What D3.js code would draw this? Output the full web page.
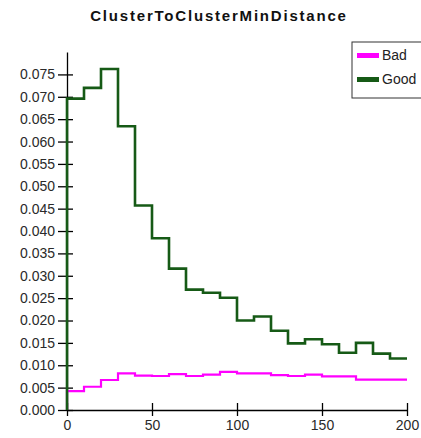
<!DOCTYPE html>
<html>
<head>
<meta charset="utf-8">
<script src="https://cdn.jsdelivr.net/npm/d3@7/dist/d3.min.js"></script>
<style>
  html, body { margin: 0; padding: 0; background: #fff; }
  svg { display: block; font-family: "Liberation Sans", Arial, sans-serif; }
</style>
</head>
<body>
<svg id="chart" width="421" height="438"></svg>
<script>
// Histogram bins: lower edges of 10-unit bins from 0 to 200
const binStarts = [0, 10, 20, 30, 40, 50, 60, 70, 80, 90, 100, 110, 120, 130, 140, 150, 160, 170, 180, 190];
const binWidth = 10;

// Relative frequencies per bin
const badValues = [0.0042, 0.0052, 0.0067, 0.0082, 0.0077, 0.0076, 0.0080, 0.0076, 0.0079, 0.0085,
                   0.0082, 0.0082, 0.0078, 0.0076, 0.0079, 0.0075, 0.0075, 0.0068, 0.0068, 0.0068];
const goodValues = [0.0696, 0.0720, 0.0762, 0.0634, 0.0457, 0.0384, 0.0316, 0.0269, 0.0262, 0.0251,
                    0.0200, 0.0209, 0.0177, 0.0149, 0.0158, 0.0147, 0.0128, 0.0150, 0.0126, 0.0115];

const xTicks = [0, 50, 100, 150, 200];
const yTicks = [0, 0.005, 0.010, 0.015, 0.020, 0.025, 0.030, 0.035, 0.040,
                0.045, 0.050, 0.055, 0.060, 0.065, 0.070, 0.075];

const seriesNames = ["Bad", "Good"];
const seriesColors = ["#ff00ff", "#165a16"];

const svg = d3.select("#chart");
const margin = { left: 67, right: 14, top: 52, bottom: 28 };
const W = 421, H = 438;

const x = d3.scaleLinear().domain([0, 200]).range([margin.left, W - margin.right]);
const yMax = d3.max(goodValues) * 1.05;
const y = d3.scaleLinear().domain([0, yMax]).range([H - margin.bottom, margin.top]);

// Title
svg.append("text")
  .attr("x", 219).attr("y", 21)
  .attr("text-anchor", "middle")
  .attr("font-weight", "bold")
  .attr("font-size", 15)
  .attr("letter-spacing", 1.8)
  .attr("fill", "#111")
  .text("ClusterToClusterMinDistance");

// Axes with ticks crossing the axis line
const yAxis = d3.axisLeft(y).tickValues(yTicks).tickFormat(d3.format(".3f")).tickSizeInner(6).tickSizeOuter(0);
const gy = svg.append("g").attr("transform", `translate(${margin.left},0)`).call(yAxis);
gy.selectAll(".tick line").attr("x1", -9).attr("x2", 6).attr("stroke", "#000").attr("stroke-width", 1.3);
gy.selectAll(".tick text").attr("x", -12).attr("font-size", 14).attr("fill", "#2a2a2a")
  .attr("font-family", "Liberation Sans, Arial, sans-serif");
gy.select(".domain").attr("stroke", "#000").attr("stroke-width", 1.3);

const xAxis = d3.axisBottom(x).tickValues(xTicks).tickFormat(d3.format("d")).tickSizeInner(6).tickSizeOuter(0);
const gx = svg.append("g").attr("transform", `translate(0,${H - margin.bottom})`).call(xAxis);
gx.selectAll(".tick line").attr("y1", -7).attr("y2", 6).attr("stroke", "#000").attr("stroke-width", 1.3);
gx.selectAll(".tick text").attr("y", 10).attr("dy", "0.71em").attr("font-size", 14).attr("fill", "#2a2a2a")
  .attr("font-family", "Liberation Sans, Arial, sans-serif");
gx.select(".domain").attr("stroke", "#000").attr("stroke-width", 1.3);

// Step outlines of each histogram
function stepPoints(values) {
  const pts = [[0, 0]];
  binStarts.forEach((b, i) => pts.push([b, values[i]]));
  pts.push([binStarts[binStarts.length - 1] + binWidth, values[values.length - 1]]);
  return pts;
}
const line = d3.line().x(d => x(d[0])).y(d => y(d[1])).curve(d3.curveStepAfter);

svg.append("path")
  .attr("d", line(stepPoints(badValues)))
  .attr("fill", "none").attr("stroke", seriesColors[0]).attr("stroke-width", 2.2);
svg.append("path")
  .attr("d", line(stepPoints(goodValues)))
  .attr("fill", "none").attr("stroke", seriesColors[1]).attr("stroke-width", 2.6);

// Legend
const lg = svg.append("g").attr("transform", "translate(352,42)");
lg.append("rect").attr("x", 0).attr("y", 0).attr("width", 80).attr("height", 56)
  .attr("fill", "#fff").attr("stroke", "#333").attr("stroke-width", 1);
seriesNames.forEach((n, i) => {
  lg.append("rect").attr("x", 5).attr("y", 11 + i * 24).attr("width", 22).attr("height", 5).attr("fill", seriesColors[i]);
  lg.append("text").attr("x", 30).attr("y", 13.5 + i * 24).attr("dy", "0.35em")
    .attr("font-size", 14).attr("fill", "#222").text(n);
});
</script>
</body>
</html>
